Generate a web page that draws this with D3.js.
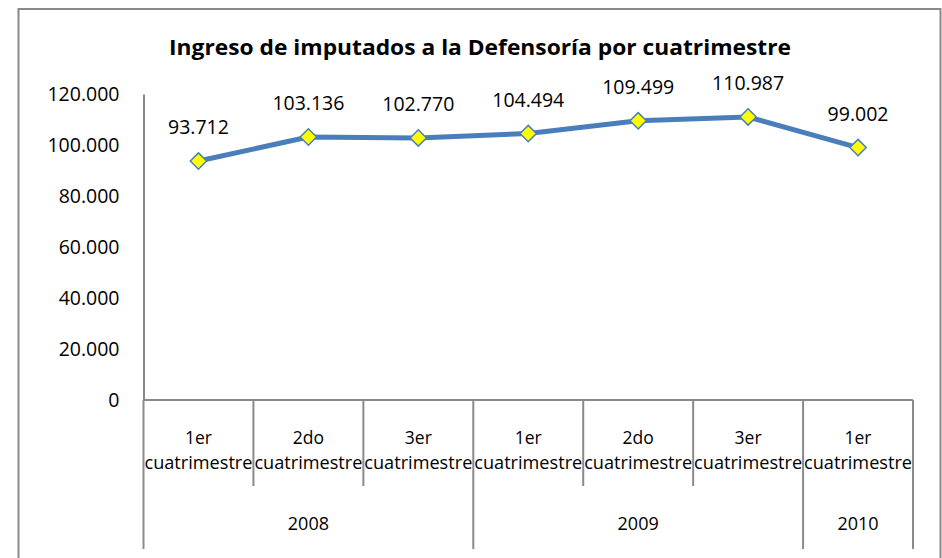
<!DOCTYPE html>
<html lang="es">
<head>
<meta charset="UTF-8">
<script src="https://d3js.org/d3.v7.min.js"></script>
<style>
  body { margin: 0; background: #fff; }
  svg { display: block; font-family: "Open Sans", "Noto Sans", sans-serif; }
</style>
</head>
<body>
<svg id="chart" width="942" height="558"></svg>
<script>
// datos
let periods = ['1er cuatrimestre', '2do cuatrimestre', '3er cuatrimestre',
               '1er cuatrimestre', '2do cuatrimestre', '3er cuatrimestre', '1er cuatrimestre']
let years = ['2008', '2008', '2008', '2009', '2009', '2009', '2010']
let values = [93712, 103136, 102770, 104494, 109499, 110987, 99002]
let valueLabels = ['93.712', '103.136', '102.770', '104.494', '109.499', '110.987', '99.002']
let yTicks = [0, 20000, 40000, 60000, 80000, 100000, 120000]

let svg = d3.select('#chart')
let gray = '#8a8a8a'

// marco exterior
svg.append('rect')
  .attr('x', 18.5).attr('y', 9).attr('width', 922).attr('height', 580)
  .attr('fill', 'none').attr('stroke', gray).attr('stroke-width', 2)

let plotLeft = 143.5, plotRight = 913, plotTop = 94, plotBottom = 400

let x = d3.scaleBand().domain(d3.range(values.length)).range([plotLeft, plotRight])
let y = d3.scaleLinear().domain([0, 120000]).range([plotBottom, plotTop])

let fmt = (d) => d === 0 ? '0' : d3.format(',')(d).replace(/,/g, '.')

// titulo
svg.append('text')
  .attr('x', 480).attr('y', 55)
  .attr('text-anchor', 'middle')
  .attr('font-weight', 'bold')
  .attr('font-size', 22)
  .attr('textLength', 622)
  .attr('lengthAdjust', 'spacingAndGlyphs')
  .text('Ingreso de imputados a la Defensoría por cuatrimestre')

// eje y
let yAxis = svg.append('g')
  .attr('transform', `translate(${plotLeft},0)`)
  .call(d3.axisLeft(y).tickValues(yTicks).tickSize(0).tickPadding(24).tickFormat(fmt))
yAxis.select('.domain').attr('stroke', gray).attr('stroke-width', 2)
yAxis.selectAll('text').attr('font-size', 19.5).attr('fill', '#000')
yAxis.attr('font-family', null).attr('font-size', null)

// eje x
svg.append('line')
  .attr('x1', plotLeft).attr('x2', plotRight).attr('y1', plotBottom).attr('y2', plotBottom)
  .attr('stroke', gray).attr('stroke-width', 2)

// divisiones de categorias
let bounds = d3.range(values.length + 1)
svg.selectAll('.tick-div')
  .data(bounds)
  .enter()
  .append('line')
  .attr('class', 'tick-div')
  .attr('x1', (i) => i < values.length ? x(i) : plotRight)
  .attr('x2', (i) => i < values.length ? x(i) : plotRight)
  .attr('y1', plotBottom)
  .attr('y2', (i) => (i === 0 || i === values.length || years[i] !== years[i - 1]) ? 549 : 486)
  .attr('stroke', gray).attr('stroke-width', 2)

// etiquetas de categorias
let catG = svg.selectAll('.cat')
  .data(periods)
  .enter()
  .append('text')
  .attr('class', 'cat')
  .attr('text-anchor', 'middle')
  .attr('font-size', 17.5)
  .attr('fill', '#000')
catG.append('tspan')
  .attr('x', (d, i) => x(i) + x.bandwidth() / 2)
  .attr('y', 444)
  .text((d) => d.split(' ')[0])
catG.append('tspan')
  .attr('x', (d, i) => x(i) + x.bandwidth() / 2)
  .attr('y', 469)
  .attr('textLength', 108)
  .attr('lengthAdjust', 'spacingAndGlyphs')
  .text((d) => d.split(' ')[1])

// etiquetas de anio
let yearGroups = d3.groups(years.map((yr, i) => ({ yr, i })), (d) => d.yr)
svg.selectAll('.year')
  .data(yearGroups)
  .enter()
  .append('text')
  .attr('class', 'year')
  .attr('text-anchor', 'middle')
  .attr('font-size', 18)
  .attr('x', (g) => {
    let idx = g[1].map((d) => d.i)
    return (x(d3.min(idx)) + x(d3.max(idx)) + x.bandwidth()) / 2
  })
  .attr('y', 530)
  .text((g) => g[0])

// linea
let cx = (i) => x(i) + x.bandwidth() / 2
svg.append('path')
  .datum(values)
  .attr('d', d3.line().x((d, i) => cx(i)).y((d) => y(d)))
  .attr('fill', 'none')
  .attr('stroke', '#4a7ebb')
  .attr('stroke-width', 5)
  .attr('stroke-linejoin', 'round')

// marcadores
svg.selectAll('.marker')
  .data(values)
  .enter()
  .append('path')
  .attr('class', 'marker')
  .attr('d', d3.symbol().type(d3.symbolDiamond2).size(170))
  .attr('transform', (d, i) => `translate(${cx(i)},${y(d)})`)
  .attr('fill', '#ffff00')
  .attr('stroke', '#4a7ebb')
  .attr('stroke-width', 1.5)

// etiquetas de datos
svg.selectAll('.val')
  .data(values)
  .enter()
  .append('text')
  .attr('class', 'val')
  .attr('text-anchor', 'middle')
  .attr('font-size', 19.5)
  .attr('x', (d, i) => cx(i))
  .attr('y', (d) => y(d) - 27)
  .text((d, i) => valueLabels[i])
</script>
</body>
</html>
